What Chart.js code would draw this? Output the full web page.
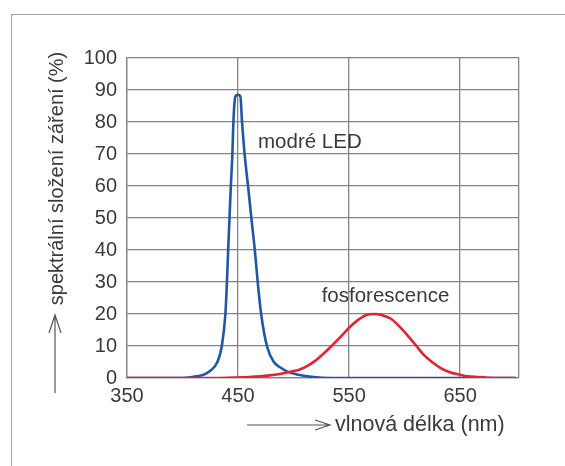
<!DOCTYPE html>
<html>
<head>
<meta charset="utf-8">
<script src="https://cdn.jsdelivr.net/npm/chart.js@4.4.1/dist/chart.umd.min.js"></script>
<style>
  html, body { margin: 0; padding: 0; background: #fff; }
  #wrap { position: relative; width: 565px; height: 466px; overflow: hidden; }
  #frame {
    position: absolute; left: 11px; top: 14px; width: 600px; height: 500px;
    border-top: 1.5px solid #a3a3a3; border-left: 1.5px solid #a3a3a3;
  }
  canvas { position: absolute; left: 0; top: 0; }
</style>
</head>
<body>
<div id="wrap">
  <div id="frame"></div>
  <canvas id="spectrum" width="565" height="466"></canvas>
</div>
<script>
// wavelengths (nm) and relative values (%)
const blueNm = [350, 380, 403.4, 412.4, 418.7, 424.1, 431.4, 435.4, 438.6, 440, 441.1, 442.3, 443.5, 444.9, 445.8, 447.6, 449.9, 452.1, 453.6, 455.9, 459, 462, 465.1, 467.7, 470.8, 476, 482.2, 488.5, 494.4, 504.3, 517.8, 534, 700];
const blueVal = [0, 0, 0.1, 0.5, 1, 2, 5, 10, 20, 30, 40, 50, 60, 70, 80, 88, 88.5, 88, 80, 70, 60, 50, 40, 30, 20, 10, 5, 3.2, 2, 1, 0.3, 0, 0];

const redNm = [350, 420, 440, 460, 470, 480, 490, 498, 505, 512.6, 520, 527.6, 534.2, 542.5, 550, 557.5, 565, 572.5, 580, 587.4, 595, 602.4, 610.6, 617.3, 625, 632.5, 640, 650, 657, 665, 675, 690, 700];
const redVal = [0, 0, 0.1, 0.3, 0.5, 0.9, 1.4, 2, 2.6, 3.8, 5.5, 7.8, 10, 12.9, 15.7, 18, 19.6, 20, 19.6, 18.6, 16.2, 13.4, 10, 7.2, 4.9, 3.1, 1.9, 1, 0.5, 0.3, 0.1, 0, 0];

const xTicks = [350, 450, 550, 650];
const xMin = 350, xMax = 703;
const yTicks = [0, 10, 20, 30, 40, 50, 60, 70, 80, 90, 100];

const labels = [
  { text: "modré LED", x: 468, y: 71.8 },
  { text: "fosforescence", x: 525.3, y: 23.75 },
];

const TEXT = "#3a3a3a";
const GRID = "#848484";
Chart.defaults.font.family = "'Liberation Sans', Arial, sans-serif";

function toPoints(xs, ys) {
  return xs.map((x, i) => ({ x: x, y: ys[i] }));
}

function arrowUp(ctx, x, y0, y1) {
  ctx.beginPath();
  ctx.moveTo(x, y0);
  ctx.lineTo(x, y1);
  ctx.moveTo(x - 6, y1 + 18);
  ctx.lineTo(x, y1);
  ctx.lineTo(x + 6, y1 + 18);
  ctx.stroke();
}

function arrowRight(ctx, y, x0, x1) {
  ctx.beginPath();
  ctx.moveTo(x0, y);
  ctx.lineTo(x1, y);
  ctx.moveTo(x1 - 15, y - 5);
  ctx.lineTo(x1, y);
  ctx.lineTo(x1 - 15, y + 5);
  ctx.stroke();
}

// axis titles with arrows, and the two curve names
const extras = {
  id: "extras",
  afterDraw(chart) {
    const { ctx, chartArea, scales } = chart;
    ctx.save();
    ctx.fillStyle = TEXT;
    ctx.font = "20.5px 'Liberation Sans', Arial, sans-serif";
    ctx.textBaseline = "alphabetic";

    labels.forEach((l) => {
      ctx.textAlign = "left";
      ctx.fillText(l.text, scales.x.getPixelForValue(l.x), scales.y.getPixelForValue(l.y));
    });

    // x title
    ctx.font = "21.5px 'Liberation Sans', Arial, sans-serif";
    ctx.fillText("vlnová délka (nm)", chartArea.left + 208, chartArea.bottom + 53);
    ctx.strokeStyle = "#555";
    ctx.lineWidth = 1.2;
    arrowRight(ctx, chartArea.bottom + 47, chartArea.left + 120, chartArea.left + 203);

    // y title
    ctx.save();
    ctx.translate(62.5, chartArea.top + 120.5);
    ctx.rotate(-Math.PI / 2);
    ctx.textAlign = "center";
    ctx.font = "20px 'Liberation Sans', Arial, sans-serif";
    ctx.fillText("spektrální složení záření (%)", 0, 0);
    ctx.restore();
    arrowUp(ctx, 55, chartArea.bottom + 15, chartArea.bottom - 63);

    ctx.restore();
  },
};

const ctx = document.getElementById("spectrum").getContext("2d");
const chart = new Chart(ctx, {
  type: "line",
  data: {
    datasets: [
      {
        label: "modré LED",
        data: toPoints(blueNm, blueVal),
        borderColor: "rgb(33, 86, 166)",
        borderWidth: 2.6,
        pointRadius: 0,
        cubicInterpolationMode: "monotone",
        order: 1,
      },
      {
        label: "fosforescence",
        data: toPoints(redNm, redVal),
        borderColor: "rgb(226, 34, 56)",
        borderWidth: 2.6,
        pointRadius: 0,
        cubicInterpolationMode: "monotone",
        order: 0,
      },
    ],
  },
  options: {
    responsive: false,
    animation: false,
    layout: { padding: { left: 0, top: 58, right: 46, bottom: 0 } },
    plugins: {
      legend: { display: false },
      tooltip: { enabled: false },
    },
    scales: {
      x: {
        type: "linear",
        min: xMin,
        max: xMax,
        afterBuildTicks: (scale) => {
          scale.ticks = xTicks.concat([xMax]).map((v) => ({ value: v }));
        },
        afterFit: (scale) => { scale.height = 88; },
        grid: { color: GRID, lineWidth: 1.3, drawTicks: false },
        border: { color: GRID, width: 1.3 },
        ticks: {
          padding: 6,
          color: TEXT,
          font: { size: 20 },
          maxRotation: 0,
          autoSkip: false,
          callback: (v) => (xTicks.includes(v) ? String(v) : ""),
        },
      },
      y: {
        min: 0,
        max: 100,
        afterBuildTicks: (scale) => {
          scale.ticks = yTicks.map((v) => ({ value: v }));
        },
        afterFit: (scale) => { scale.width = 127; },
        grid: { color: GRID, lineWidth: 1.3, drawTicks: false },
        border: { color: GRID, width: 1.3 },
        ticks: {
          padding: 10,
          color: TEXT,
          font: { size: 20 },
        },
      },
    },
  },
  plugins: [extras],
});
</script>
</body>
</html>
